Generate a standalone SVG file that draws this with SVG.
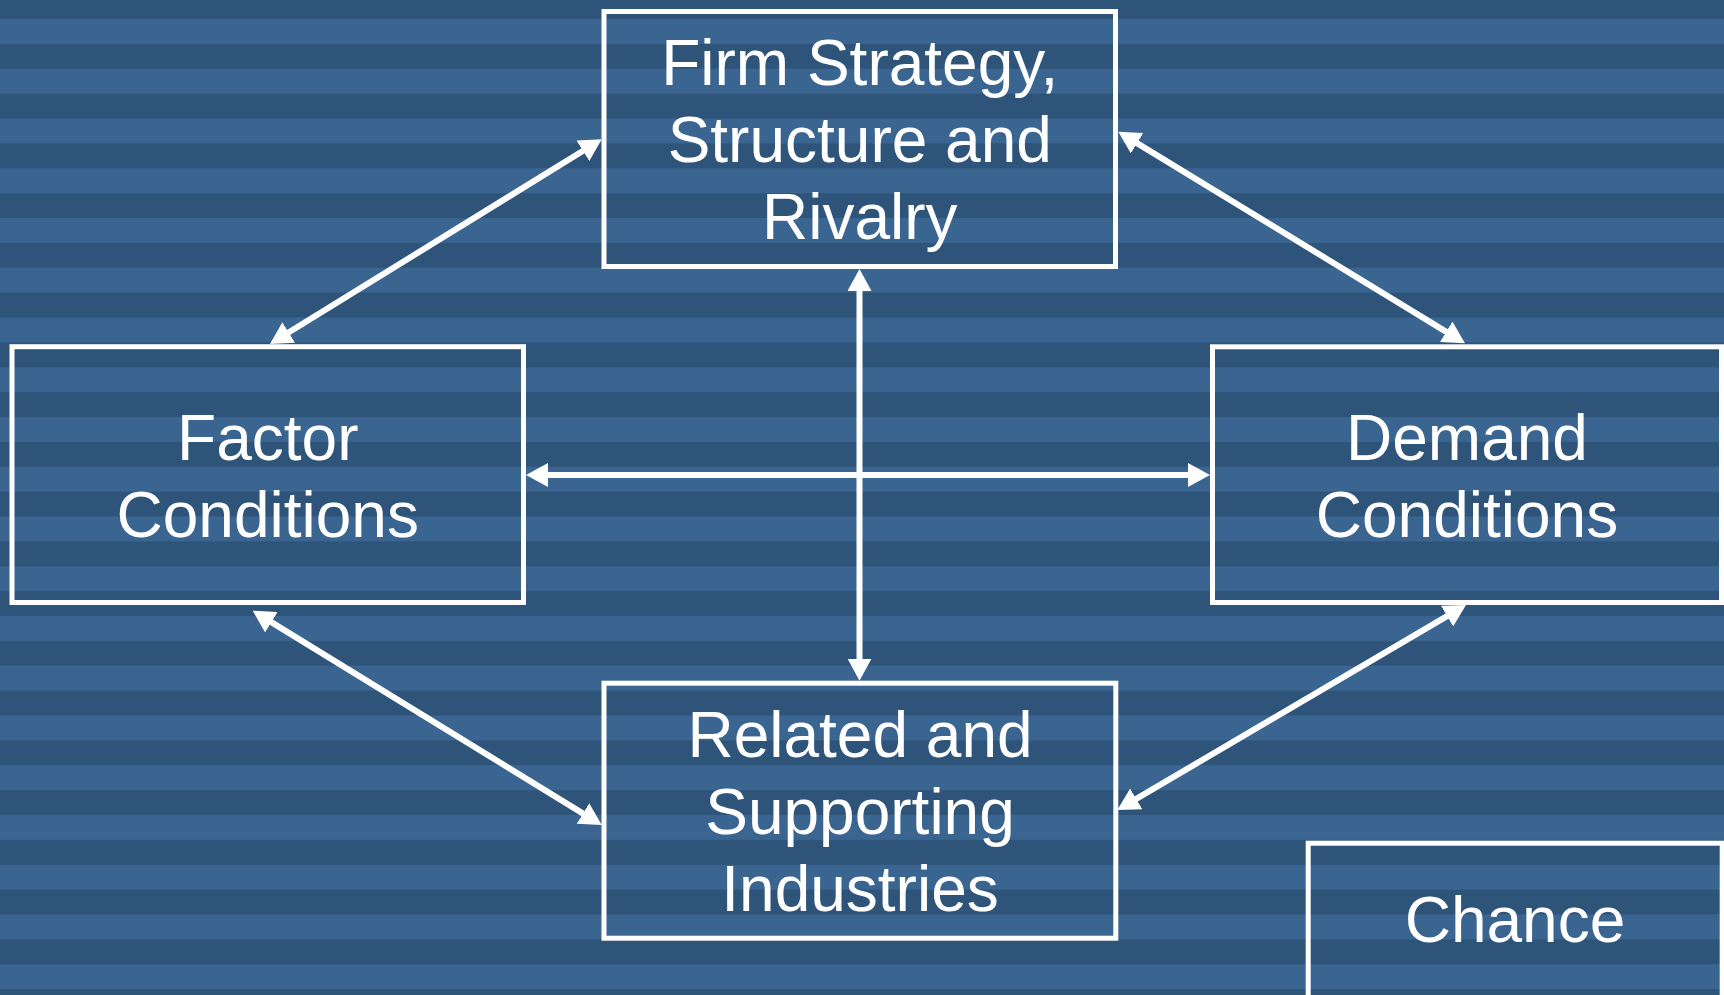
<svg xmlns="http://www.w3.org/2000/svg" width="1724" height="995" viewBox="0 0 1724 995">
<defs>
<pattern id="stripes" patternUnits="userSpaceOnUse" x="0" y="19" width="1724" height="49.75">
<rect x="0" y="0" width="1724" height="24.875" fill="#3a6590"/>
<rect x="0" y="24.875" width="1724" height="24.875" fill="#2f5479"/>
</pattern>
<marker id="ah" viewBox="0 0 22 24" refX="4" refY="12" markerWidth="22" markerHeight="24" markerUnits="userSpaceOnUse" orient="auto-start-reverse">
<path d="M0,0 L22,12 L0,24 z" fill="#ffffff"/>
</marker>
</defs>
<style>
.box{fill:none;stroke:#ffffff;stroke-width:5}
.lbl{font-family:"Liberation Sans",Arial,sans-serif;font-size:64px;fill:#ffffff;text-anchor:middle}
.con{stroke:#ffffff;stroke-width:6;fill:none;marker-start:url(#ah);marker-end:url(#ah)}
</style>
<rect x="0" y="0" width="1724" height="995" fill="url(#stripes)"/>
<g id="connectors">
<line class="con" x1="859.5" y1="287" x2="859.5" y2="662.7"/>
<line class="con" x1="544" y1="475" x2="1192" y2="475"/>
<line class="con" x1="285.3" y1="334.55" x2="586.4" y2="148.75"/>
<line class="con" x1="1133.7" y1="141.1" x2="1449.6" y2="333.9"/>
<line class="con" x1="268" y1="620.1" x2="586.4" y2="815.6"/>
<line class="con" x1="1450.5" y1="614.1" x2="1132.8" y2="800.9"/>
</g>
<g id="firm">
<rect class="box" x="604" y="11.5" width="511.5" height="255"/>
<text class="lbl" x="859.75" y="84.6">Firm Strategy,</text>
<text class="lbl" x="859.75" y="161.6">Structure and</text>
<text class="lbl" x="859.75" y="238.6">Rivalry</text>
</g>
<g id="factor">
<rect class="box" x="12" y="346.7" width="511.5" height="255.8"/>
<text class="lbl" x="267.75" y="460">Factor</text>
<text class="lbl" x="267.75" y="537">Conditions</text>
</g>
<g id="demand">
<rect class="box" x="1212.5" y="346.8" width="509" height="255.7"/>
<text class="lbl" x="1467" y="460">Demand</text>
<text class="lbl" x="1467" y="537">Conditions</text>
</g>
<g id="related">
<rect class="box" x="604" y="683.2" width="511.8" height="255"/>
<text class="lbl" x="860" y="757">Related and</text>
<text class="lbl" x="860" y="834">Supporting</text>
<text class="lbl" x="860" y="911">Industries</text>
</g>
<g id="chance">
<rect class="box" x="1308.2" y="843.2" width="414" height="200"/>
<text class="lbl" x="1515" y="942">Chance</text>
</g>
</svg>
